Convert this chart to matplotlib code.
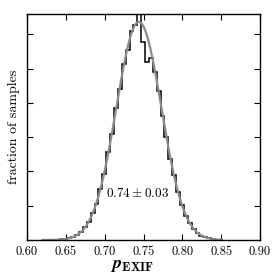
import numpy as np
import matplotlib
matplotlib.use("Agg")
import matplotlib.pyplot as plt

plt.rcParams['font.family'] = 'serif'
plt.rcParams['font.serif'] = ['cmr10', 'DejaVu Serif']
plt.rcParams['mathtext.fontset'] = 'cm'
plt.rcParams['axes.unicode_minus'] = False

# histogram bins (fraction of samples per bin)
bin_lo = 0.627
bin_width = 0.005
fractions = [0.00003, 0.00005, 0.0001, 0.0002, 0.0003, 0.0006, 0.0009, 0.0016,
             0.0024, 0.0038, 0.0052, 0.0080, 0.0105, 0.0150, 0.0192, 0.0258,
             0.0310, 0.0385, 0.0440, 0.0512, 0.0555, 0.0610, 0.0627, 0.0680,
             0.0577, 0.0519, 0.0530, 0.0490, 0.0435, 0.0362, 0.0300, 0.0235,
             0.0190, 0.0140, 0.0102, 0.0070, 0.0050, 0.0032, 0.0021, 0.0013,
             0.0008, 0.0005, 0.0003, 0.00015, 0.00008]

# gaussian fit
mu = 0.744
sigma = 0.029
fit_peak = 0.0636

edges = bin_lo + bin_width * np.arange(len(fractions) + 1)
xfit = np.linspace(0.62, 0.85, 300)
yfit = fit_peak * np.exp(-(xfit - mu) ** 2 / (2 * sigma ** 2))

fig = plt.figure(figsize=(2.74, 2.74), dpi=100)
ax = fig.add_axes([0.0985, 0.124, 0.8505, 0.825])

ax.plot(xfit, yfit, color='#8c8c8c', lw=1.6)
ax.stairs(fractions, edges, color='black', lw=1.1)

ax.text(0.7015, 0.0137, r'$0.74 \pm 0.03$', fontsize=9.5, va='center', ha='left')

ax.set_xlim(0.60, 0.90)
ax.set_ylim(0, 0.0659)
ax.set_xticks(np.arange(0.60, 0.901, 0.05))
ax.set_xticklabels(['0.60', '0.65', '0.70', '0.75', '0.80', '0.85', '0.90'])
ax.set_yticks(np.arange(0, 0.061, 0.01))
ax.set_yticklabels([])
ax.tick_params(direction='in', top=True, right=True, length=4, labelsize=9, pad=4)
ax.set_xlabel(r'$\mathbfit{p}_{\mathbf{EXIF}}$', fontsize=13)
ax.xaxis.set_label_coords(0.45, -0.078)
ax.set_ylabel('fraction of samples', fontsize=10)
ax.yaxis.set_label_coords(-0.028, 0.5)
for s in ax.spines.values():
    s.set_linewidth(1.0)

fig.savefig('out.png', dpi=100)
